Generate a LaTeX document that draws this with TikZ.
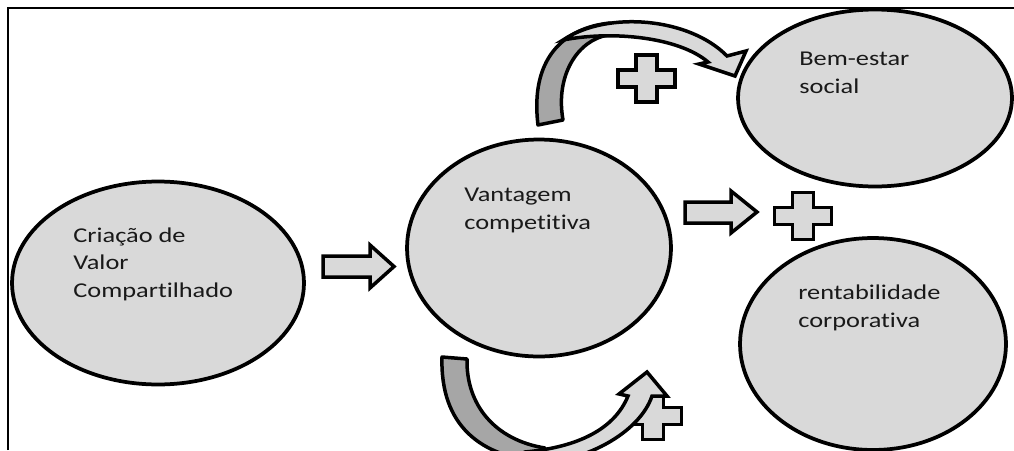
\documentclass[tikz,border=0pt]{standalone}
\usepackage{fontspec}
\setmainfont{Carlito}[FakeStretch=1.25, Ligatures=NoCommon]
\usetikzlibrary{shapes.geometric}

\definecolor{lightfill}{HTML}{D9D9D9}
\definecolor{backfill}{HTML}{A6A6A6}

\tikzset{
  crossmark/.pic={
    \draw[shapefill] (-10.5,-23.5) -- ++(21,0) -- ++(0,15) -- ++(18,0) -- ++(0,17)
      -- ++(-18,0) -- ++(0,15) -- ++(-21,0) -- ++(0,-15) -- ++(-18,0)
      -- ++(0,-17) -- ++(18,0) -- cycle;
  }
}

\begin{document}
\begin{tikzpicture}[x=0.02cm, y=-0.02cm,
  bubble/.style={ellipse, draw, line width=0.075cm, fill=lightfill, inner sep=0pt},
  insidetext/.style={anchor=base west, align=left, inner sep=0pt, text=black!90,
    font=\fontsize{12}{15.6}\selectfont},
  shapefill/.style={draw, line width=0.07cm, fill=lightfill, line join=miter},
  backpart/.style={draw, line width=0.07cm, fill=backfill, line join=round}]

\useasboundingbox (0,0) rectangle (1014,450);
\clip (0,0) rectangle (1014,450);

% frame
\draw[line width=0.04cm] (8,450) -- (8,8) -- (1014,8);

% the four ellipses
\node[bubble, minimum width=5.84cm, minimum height=4.06cm] (cvs) at (158,283) {};
\node[bubble, minimum width=5.28cm, minimum height=4.34cm] (vant) at (539,248) {};
\node[bubble, minimum width=5.48cm, minimum height=3.54cm] (bem) at (875,98) {};
\node[bubble, minimum width=5.32cm, minimum height=4.24cm] (rent) at (873,344) {};

% texts (anchored at the baseline of the last line)
\node[insidetext] (cvstext) at (73,297) {Criação de\\Valor\\Compartilhado};
\node[insidetext] (vanttext) at (464,229) {Vantagem\\competitiva};
\node[insidetext] (bemtext) at (799,93) {Bem-estar\\social};
\node[insidetext] (renttext) at (798,327) {rentabilidade\\corporativa};

% straight block arrows
\draw[shapefill] (323,256) -- (370,256) -- (370,245) -- (394,266.5) -- (370,288)
  -- (370,277) -- (323,277) -- cycle;
\draw[shapefill] (685,202) -- (731,202) -- (731,191) -- (757,212) -- (731,233)
  -- (731,223) -- (685,223) -- cycle;

% plus signs
\pic at (803,216) {crossmark};
\pic at (646.5,78.5) {crossmark};
\pic at (653,416) {crossmark};

% curved arrow on top
\draw[backpart] (538,125) .. controls (530,60) and (562,28) .. (610,23)
  -- (608,35) .. controls (578,40) and (555,75) .. (563,120) -- cycle;
\draw[shapefill] (563,40) .. controls (608,10) and (690,18) .. (727,56)
  -- (746,51) -- (735,76) -- (699,64) -- (708,62)
  .. controls (680,38) and (615,30) .. (563,40) -- cycle;

% curved arrow below
\draw[backpart] (442,357) .. controls (440,425) and (480,458) .. (545,462)
  -- (545,448) .. controls (495,440) and (466,405) .. (467,359) -- cycle;
\draw[shapefill] (520,465) .. controls (585,465) and (640,432) .. (652,396)
  -- (667,396) -- (647,372) -- (619,394) -- (628,396)
  .. controls (615,428) and (580,447) .. (525,452) -- cycle;

\end{tikzpicture}
\end{document}
